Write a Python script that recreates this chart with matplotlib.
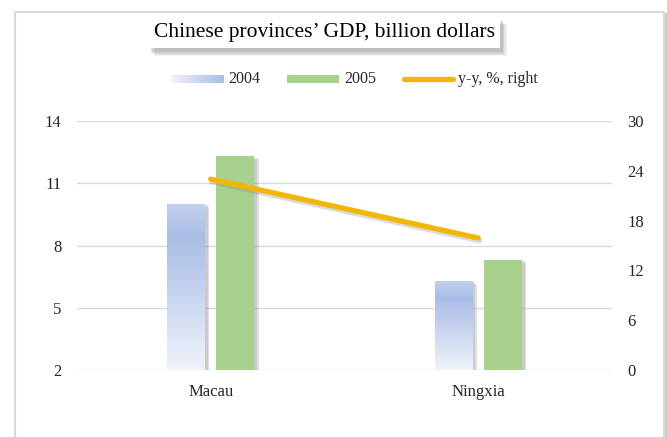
import matplotlib
matplotlib.use('Agg')
import matplotlib.pyplot as plt
import numpy as np
from matplotlib.patches import Rectangle
from matplotlib.lines import Line2D
import matplotlib.patheffects as pe
from matplotlib.colors import LinearSegmentedColormap

categories = ['Macau', 'Ningxia']
gdp_2004 = [10.0, 6.3]
gdp_2005 = [12.3, 7.3]
yy_pct = [23.0, 15.9]
left_ticks = [2, 5, 8, 11, 14]
right_ticks = [0, 6, 12, 18, 24, 30]
series_labels = ['2004', '2005', 'y-y, %, right']
title = 'Chinese provinces\u2019 GDP, billion dollars'

plt.rcParams['font.family'] = ['Liberation Serif', 'DejaVu Serif']

W, H = 667, 437
fig = plt.figure(figsize=(W / 100, H / 100), dpi=100)


def fx(px):
    return px / W


def fy(py):
    return 1 - py / H


GREEN = '#a9d18e'
ORANGE = '#f2b705'
GRID = '#d9d9d9'
TXT = '#262626'
blue_cmap = LinearSegmentedColormap.from_list(
    'bl', [(0.0, '#f0f3fb'), (0.8, '#a9bde6'), (1.0, '#c3d0ee')])

# outer frame (lines only)
fl = dict(transform=fig.transFigure, color=GRID, lw=1.5, zorder=-1)
fig.lines.append(Line2D([fx(15), fx(15), fx(664), fx(664)],
                        [fy(445), fy(12), fy(12), fy(445)], **fl))
fig.lines.append(Line2D([fx(666), fx(666)], [fy(14), fy(445)],
                        transform=fig.transFigure, color='#c8c8c8', lw=2, zorder=-1))

ax = fig.add_axes([fx(77), fy(370), fx(612) - fx(77), fy(121) - fy(370)])
ax.patch.set_alpha(0)
x = np.arange(len(categories))
w = 0.142
off = 0.092

shadow = [pe.SimplePatchShadow(offset=(3, -2), shadow_rgbFace='#9a9a9a', alpha=0.3),
          pe.SimplePatchShadow(offset=(2, -1), shadow_rgbFace='#9a9a9a', alpha=0.3),
          pe.Normal()]

bars04 = ax.bar(x - off, np.array(gdp_2004) - 2, bottom=2, width=w,
                facecolor='none', edgecolor='none', zorder=2, path_effects=shadow)
bars05 = ax.bar(x + off, np.array(gdp_2005) - 2, bottom=2, width=w,
                color=GREEN, zorder=3, path_effects=shadow)

grad = np.linspace(0, 1, 256).reshape(-1, 1)
for b in bars04:
    x0 = b.get_x()
    x1 = x0 + b.get_width()
    y0 = b.get_y()
    y1 = y0 + b.get_height()
    im = ax.imshow(grad, cmap=blue_cmap, origin='lower', aspect='auto',
                   extent=(x0, x1, y0, y1), zorder=3, interpolation='bilinear')
    im.set_clip_path(b)

ax.set_xlim(-0.5, len(categories) - 0.5)
ax.set_ylim(2, 14)
ax.set_yticks(left_ticks)
ax.set_xticks(x)
ax.set_xticklabels(categories)
ax.yaxis.grid(True, color=GRID, lw=1)
ax.set_axisbelow(True)
for s in ax.spines.values():
    s.set_visible(False)
ax.tick_params(axis='both', length=0, labelsize=12, colors=TXT)
ax.tick_params(axis='y', pad=11)
ax.tick_params(axis='x', pad=10)

ax2 = ax.twinx()
ax2.plot(x, yy_pct, color=ORANGE, lw=3.8, solid_capstyle='round', zorder=5,
         path_effects=[pe.SimpleLineShadow(offset=(1, -2), shadow_color='#888888', alpha=0.3), pe.Normal()])
ax2.set_ylim(0, 30)
ax2.set_yticks(right_ticks)
for s in ax2.spines.values():
    s.set_visible(False)
ax2.tick_params(axis='y', length=0, labelsize=12, colors=TXT, pad=11)

# title box with soft shadow
soft = [pe.SimplePatchShadow(offset=(o, -o - 1), shadow_rgbFace='#777777', alpha=a)
        for o, a in [(5, 0.08), (4, 0.12), (3, 0.16), (2, 0.2)]]
tb = Rectangle((fx(148), fy(48)), fx(500) - fx(148), fy(17) - fy(48),
               transform=fig.transFigure, facecolor='white', edgecolor='none',
               path_effects=soft + [pe.Normal()], zorder=1)
fig.patches.append(tb)
fig.text(fx(324), fy(33), title, ha='center', va='center', fontsize=15.5, color='black', zorder=2)

# legend
ly = 79
lax = fig.add_axes([fx(171), fy(83), fx(223) - fx(171), fy(75) - fy(83)])
lax.imshow(np.linspace(0, 0.8, 64).reshape(1, -1), cmap=blue_cmap, vmin=0, vmax=1,
           aspect='auto', interpolation='bilinear')
lax.axis('off')
fig.text(fx(228), fy(ly), series_labels[0], ha='left', va='center', fontsize=11.5, color=TXT)
fig.patches.append(Rectangle((fx(287), fy(83)), fx(339) - fx(287), fy(75) - fy(83),
                             transform=fig.transFigure, facecolor=GREEN, edgecolor='none'))
fig.text(fx(344), fy(ly), series_labels[1], ha='left', va='center', fontsize=11.5, color=TXT)
fig.lines.append(Line2D([fx(404), fx(453)], [fy(ly), fy(ly)], transform=fig.transFigure,
                        color=ORANGE, lw=3.8, solid_capstyle='round'))
fig.text(fx(458), fy(ly), series_labels[2], ha='left', va='center', fontsize=11.5, color=TXT)

fig.savefig('out.png', dpi=100)
